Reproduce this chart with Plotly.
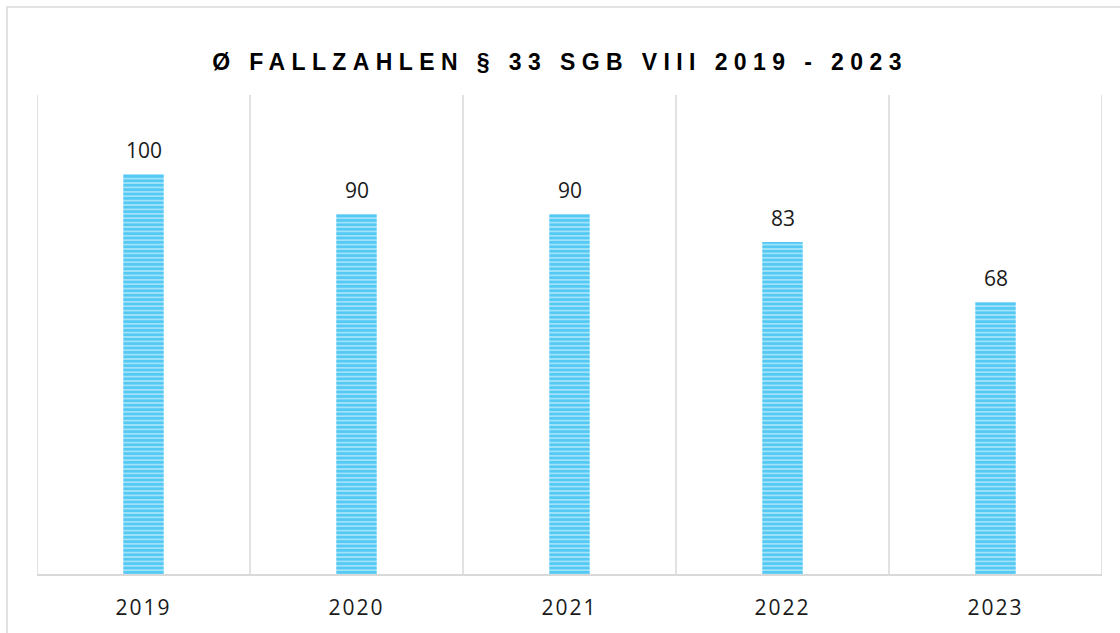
import plotly.graph_objects as go

years = ["2019", "2020", "2021", "2022", "2023"]
cases = [100, 90, 90, 83, 68]
title_text = "Ø FALLZAHLEN § 33 SGB VIII 2019 - 2023"

BLUE = "#00B0F0"
GRID = "#D9D9D9"

fig = go.Figure()
fig.add_trace(go.Bar(
    x=list(range(len(years))), y=cases,
    marker=dict(color="#A6E2F9",
                pattern=dict(shape="-", fgcolor=BLUE, bgcolor="#A6E2F9", size=4.4, solidity=0.62),
                line=dict(width=0)),
    hoverinfo="y",
))

for i, v in enumerate(cases):
    fig.add_annotation(x=i, y=v, text=str(v), showarrow=False, yanchor="bottom",
                       yshift=8, font=dict(family="Open Sans", size=21, color="#1a1a1a"))

fig.update_layout(
    width=1120, height=633,
    margin=dict(l=37, r=18, t=95, b=59),
    paper_bgcolor="white", plot_bgcolor="white",
    bargap=0.81,
    showlegend=False,
    title=dict(text="<b>" + title_text + "</b>", x=0.5, xanchor="center",
               y=1 - 62 / 633, yanchor="middle", yref="container",
               font=dict(family="Liberation Sans", size=23, color="#000000")),
    xaxis=dict(showgrid=False, automargin=False,
               tickmode="array", tickvals=list(range(len(years))), ticktext=years,
               ticks="", showline=True, linecolor=GRID, linewidth=1.5,
               ticklabelstandoff=14, zeroline=False,
               tickfont=dict(family="Open Sans", size=21, color="#1a1a1a"),
               range=[-0.5, len(years) - 0.5]),
    yaxis=dict(visible=False, automargin=False, range=[0, 119.75]),
)

# vertical separators at category boundaries
for b in range(len(years) + 1):
    fig.add_shape(type="line", xref="x", yref="paper", x0=b - 0.5, x1=b - 0.5, y0=0, y1=1,
                  line=dict(color=GRID, width=1.5), layer="below")

# outer chart border
fig.add_shape(type="rect", xref="paper", yref="paper",
              x0=(7 - 37) / 1065, x1=(1125 - 37) / 1065,
              y0=(574 - 645) / 479, y1=(574 - 7) / 479,
              line=dict(color=GRID, width=1.5), layer="below")

post = """
var s=document.createElement('style');
s.textContent='html,body{margin:0;padding:0;overflow:hidden} .gtitle{letter-spacing:6.4px} .xtick text{letter-spacing:2px}';
document.head.appendChild(s);
"""
fig.write_html("out.html", post_script=post, config={"displayModeBar": False})
